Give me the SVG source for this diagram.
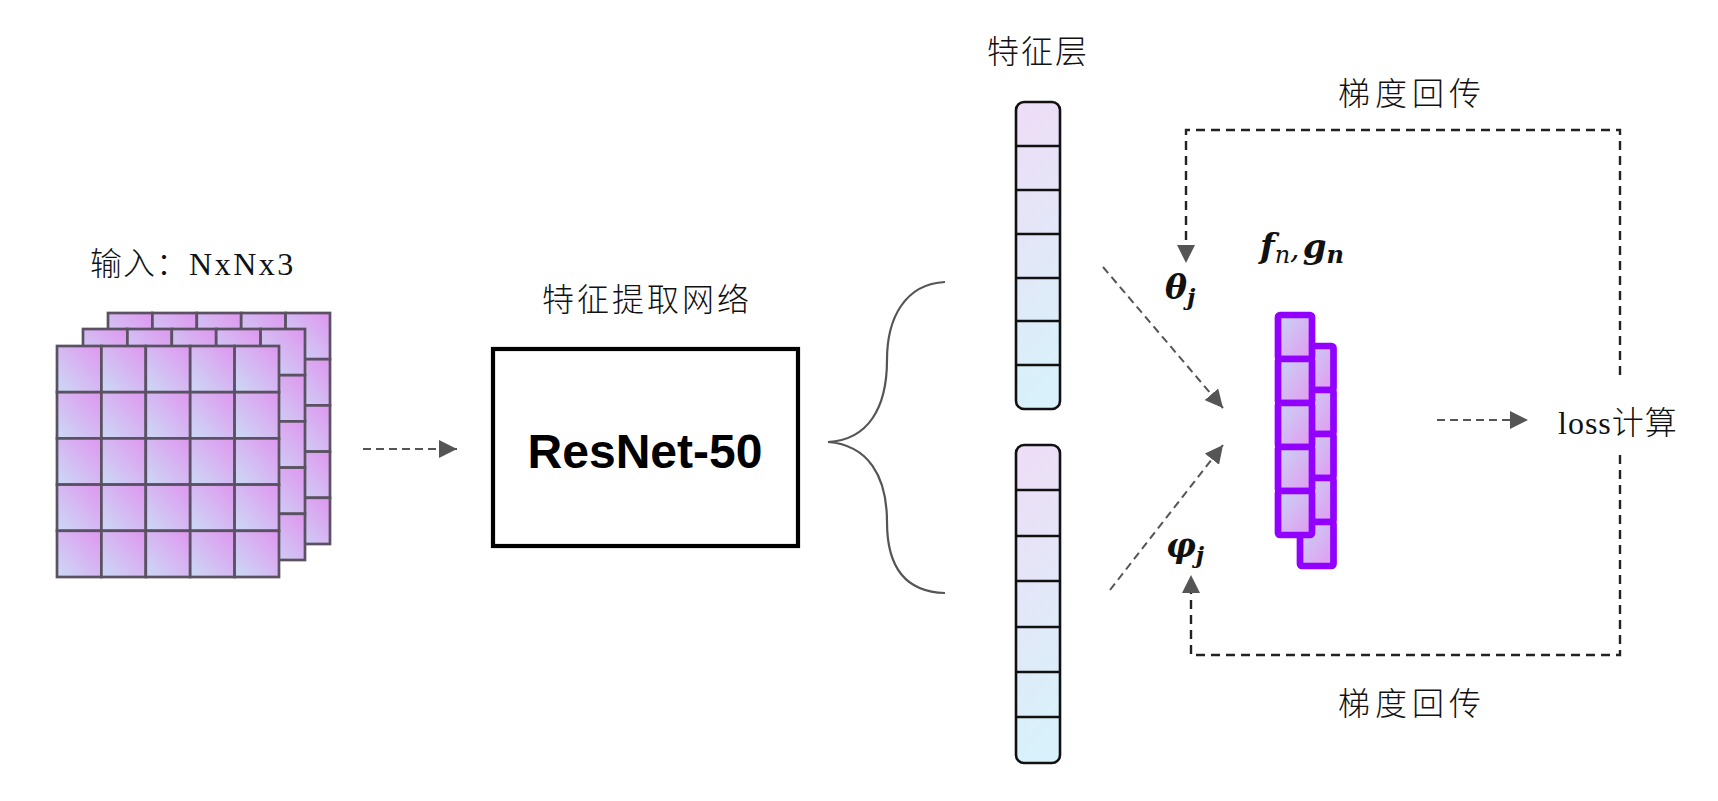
<svg xmlns="http://www.w3.org/2000/svg" width="1718" height="801" viewBox="0 0 1718 801">
<defs>
<linearGradient id="gGrid" x1="0" y1="1" x2="1" y2="0">
<stop offset="0" stop-color="#cbdaf6"/>
<stop offset="1" stop-color="#df96ef"/>
</linearGradient>
<linearGradient id="gCell" x1="0" y1="0" x2="1" y2="1">
<stop offset="0" stop-color="#c8d4f4"/>
<stop offset="1" stop-color="#e29af0"/>
</linearGradient>
<linearGradient id="gBar" x1="0" y1="0" x2="0.15" y2="1">
<stop offset="0" stop-color="#efdcf6"/>
<stop offset="1" stop-color="#d8f1fa"/>
</linearGradient>
<marker id="ah" markerWidth="18" markerHeight="18" refX="18" refY="9" orient="auto" markerUnits="userSpaceOnUse">
<path d="M0,0 L18,9 L0,18 z" fill="#555"/>
</marker>
<g id="layer">
<rect class="gc" x="0" y="0" width="44.4" height="46.2"/><rect class="gc" x="44.4" y="0" width="44.4" height="46.2"/><rect class="gc" x="88.8" y="0" width="44.4" height="46.2"/><rect class="gc" x="133.2" y="0" width="44.4" height="46.2"/><rect class="gc" x="177.6" y="0" width="44.4" height="46.2"/>
<rect class="gc" x="0" y="46.2" width="44.4" height="46.2"/><rect class="gc" x="44.4" y="46.2" width="44.4" height="46.2"/><rect class="gc" x="88.8" y="46.2" width="44.4" height="46.2"/><rect class="gc" x="133.2" y="46.2" width="44.4" height="46.2"/><rect class="gc" x="177.6" y="46.2" width="44.4" height="46.2"/>
<rect class="gc" x="0" y="92.4" width="44.4" height="46.2"/><rect class="gc" x="44.4" y="92.4" width="44.4" height="46.2"/><rect class="gc" x="88.8" y="92.4" width="44.4" height="46.2"/><rect class="gc" x="133.2" y="92.4" width="44.4" height="46.2"/><rect class="gc" x="177.6" y="92.4" width="44.4" height="46.2"/>
<rect class="gc" x="0" y="138.6" width="44.4" height="46.2"/><rect class="gc" x="44.4" y="138.6" width="44.4" height="46.2"/><rect class="gc" x="88.8" y="138.6" width="44.4" height="46.2"/><rect class="gc" x="133.2" y="138.6" width="44.4" height="46.2"/><rect class="gc" x="177.6" y="138.6" width="44.4" height="46.2"/>
<rect class="gc" x="0" y="184.8" width="44.4" height="46.2"/><rect class="gc" x="44.4" y="184.8" width="44.4" height="46.2"/><rect class="gc" x="88.8" y="184.8" width="44.4" height="46.2"/><rect class="gc" x="133.2" y="184.8" width="44.4" height="46.2"/><rect class="gc" x="177.6" y="184.8" width="44.4" height="46.2"/>
</g>
</defs>
<style>
.gc{fill:url(#gGrid);stroke:#5a5262;stroke-width:2.7}
.bar{fill:url(#gBar);stroke:#111;stroke-width:2.6}
.bl{stroke:#111;stroke-width:2.4}
.pc{fill:url(#gCell);stroke:#9200ff;stroke-width:6.7;stroke-linejoin:round}
.lbl{font-family:"Liberation Serif","Noto Sans CJK SC",serif;font-size:32px;font-weight:300;fill:#111}
.math{font-family:"DejaVu Serif","Liberation Serif",serif;font-style:italic;font-weight:bold;fill:#111}
.conn{fill:none;stroke:#555;stroke-width:2;stroke-dasharray:8 5}
.loop{fill:none;stroke:#222;stroke-width:2.4;stroke-dasharray:9 6}
</style>
<rect width="1718" height="801" fill="#fff"/>

<g id="input">
<text class="lbl" x="90" y="275" font-size="34" letter-spacing="1">输入：<tspan letter-spacing="2.5">NxNx3</tspan></text>
<use href="#layer" x="108" y="313"/>
<use href="#layer" x="83" y="329"/>
<use href="#layer" x="57" y="346"/>
</g>

<g id="resnet">
<text class="lbl" x="542" y="311" letter-spacing="3">特征提取网络</text>
<rect x="493" y="349" width="305" height="197" fill="#fff" stroke="#000" stroke-width="4.2"/>
<text x="645" y="468" text-anchor="middle" font-family="'Liberation Sans',Arial,sans-serif" font-weight="bold" font-size="48" fill="#000">ResNet-50</text>
</g>

<g id="feature-top">
<text class="lbl" x="987" y="63" letter-spacing="2">特征层</text>
<rect class="bar" x="1016" y="102" width="44" height="307" rx="8"/>
<path class="bl" d="M1016,146 H1060 M1016,190 H1060 M1016,234 H1060 M1016,278 H1060 M1016,321 H1060 M1016,365 H1060"/>
</g>

<g id="feature-bottom">
<rect class="bar" x="1016" y="445" width="44" height="318" rx="8"/>
<path class="bl" d="M1016,490 H1060 M1016,536 H1060 M1016,581 H1060 M1016,627 H1060 M1016,672 H1060 M1016,717 H1060"/>
</g>

<g id="embedding">
<text class="math" x="1260" y="258" font-size="34">f<tspan font-size="24" font-weight="normal" dy="5">n</tspan><tspan dy="-5" font-size="30" font-weight="normal">,</tspan><tspan dx="3">g</tspan><tspan font-size="24" dy="5">n</tspan></text>
<rect class="pc" x="1300" y="346" width="33.5" height="44" rx="2"/>
<rect class="pc" x="1300" y="390" width="33.5" height="44" rx="2"/>
<rect class="pc" x="1300" y="434" width="33.5" height="44" rx="2"/>
<rect class="pc" x="1300" y="478" width="33.5" height="44" rx="2"/>
<rect class="pc" x="1300" y="522" width="33.5" height="44" rx="2"/>
<rect class="pc" x="1278" y="315" width="34" height="44" rx="2"/>
<rect class="pc" x="1278" y="359" width="34" height="44" rx="2"/>
<rect class="pc" x="1278" y="403" width="34" height="44" rx="2"/>
<rect class="pc" x="1278" y="447" width="34" height="44" rx="2"/>
<rect class="pc" x="1278" y="491" width="34" height="44" rx="2"/>
</g>

<g id="loss">
<text class="lbl" x="1558" y="434" font-size="34" letter-spacing="1">loss计算</text>
</g>

<g id="labels">
<text class="math" x="1165" y="299" font-size="33">θ<tspan font-size="23" dy="6">j</tspan></text>
<text class="math" x="1166" y="557" font-size="33">φ<tspan font-size="23" dy="6">j</tspan></text>
<text class="lbl" x="1338" y="105" font-size="30" letter-spacing="5">梯度回传</text>
<text class="lbl" x="1338" y="715" font-size="30" letter-spacing="5">梯度回传</text>
</g>

<g id="connectors">
<line class="conn" x1="363" y1="449" x2="457" y2="449" marker-end="url(#ah)"/>
<path d="M945,282 C905,284 887,318 887,360 C887,408 868,440 828,442 C868,445 887,476 887,522 C887,566 905,592 945,593" fill="none" stroke="#555" stroke-width="2.2"/>
<line class="conn" x1="1103" y1="267" x2="1223" y2="408" marker-end="url(#ah)"/>
<line class="conn" x1="1110" y1="590" x2="1223" y2="445" marker-end="url(#ah)"/>
<line class="conn" x1="1437" y1="420" x2="1528" y2="420" marker-end="url(#ah)"/>
<path class="loop" d="M1620,375 V130 H1186 V247"/>
<path d="M1177,245 L1195,245 L1186,263 z" fill="#555"/>
<path class="loop" d="M1620,455 V655 H1191 V593"/>
<path d="M1182,593 L1200,593 L1191,575 z" fill="#555"/>
</g>
</svg>
